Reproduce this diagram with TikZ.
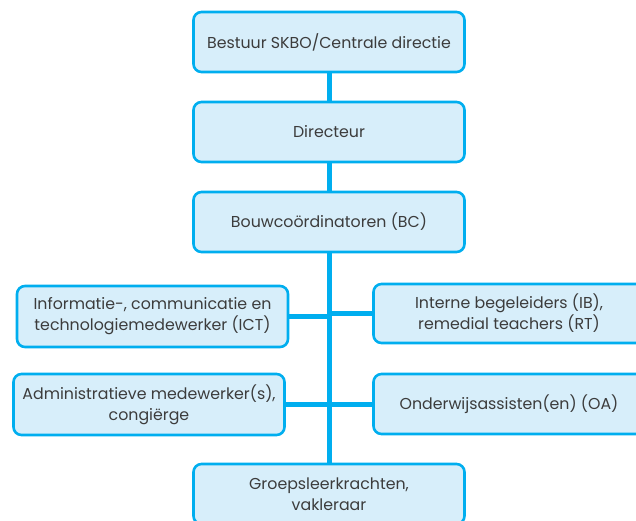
\documentclass[tikz,border=0pt]{standalone}
\usepackage{fontspec}
\setmainfont{Poppins}
\usetikzlibrary{backgrounds}
\definecolor{cyanb}{HTML}{00AEEF}
\definecolor{lightb}{HTML}{D7EEFA}
\definecolor{txt}{HTML}{3C3C3C}
\begin{document}
\begin{tikzpicture}[x=1pt,y=-1pt,
  box/.style={draw=cyanb, line width=2.6pt, fill=lightb, rounded corners=8pt,
    text=txt, align=center, inner sep=0pt, minimum width=271pt, minimum height=60pt,
    font=\fontsize{15.8}{21}\selectfont},
  conn/.style={draw=cyanb, line width=5pt}]
\useasboundingbox (0,0) rectangle (636,520);
\clip (0,0) rectangle (636,520);
\node[box] (top) at (329,42) {Bestuur SKBO/Centrale directie};
\node[box] (dir) at (329,132) {Directeur};
\node[box] (bc) at (329,222) {Bouwcoördinatoren (BC)};
\node[box, minimum height=61pt] (ict) at (152.5,316.5) {Informatie-, communicatie en\\technologiemedewerker (ICT)};
\node[box, minimum height=61pt] (adm) at (149,404.5) {Administratieve medewerker(s),\\congiërge};
\node[box, minimum height=59pt] (ib) at (509,313.5) {Interne begeleiders (IB),\\remedial teachers (RT)};
\node[box] (oa) at (509,404) {Onderwijsassisten(en) (OA)};
\node[box] (grp) at (329,494) {Groepsleerkrachten,\\vakleraar};
\begin{scope}[on background layer]
\draw[conn] (top.south) -- (dir.north);
\draw[conn] (dir.south) -- (bc.north);
\draw[conn] (bc.south) -- (grp.north);
\draw[conn] (ict.east) -- (ict.east -| bc.south);
\draw[conn] (adm.east) -- (adm.east -| bc.south);
\draw[conn] (ib.west) -- (ib.west -| bc.south);
\draw[conn] (oa.west) -- (oa.west -| bc.south);
\end{scope}
\end{tikzpicture}
\end{document}
